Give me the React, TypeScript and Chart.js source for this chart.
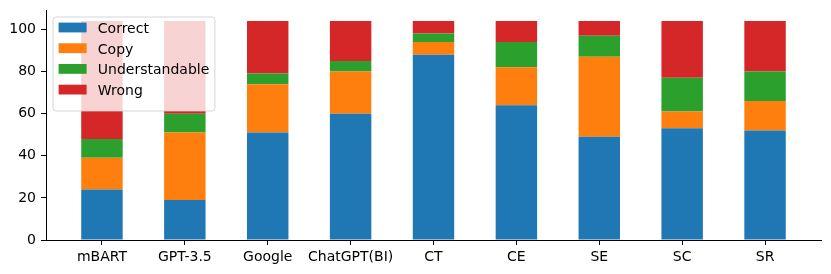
import React, { useEffect, useRef } from "react";
import { Chart, registerables } from "chart.js";

Chart.register(...registerables);

const categories = ["mBART", "GPT-3.5", "Google", "ChatGPT(BI)", "CT", "CE", "SE", "SC", "SR"];
const correct = [24, 19, 51, 60, 88, 64, 49, 53, 52];
const copy = [15, 32, 23, 20, 6, 18, 38, 8, 14];
const understandable = [9, 9, 5, 5, 4, 12, 10, 16, 14];
const wrong = [56, 44, 25, 19, 6, 10, 7, 27, 24];
const yTicks = [0, 20, 40, 60, 80, 100];
const seriesNames = ["Correct", "Copy", "Understandable", "Wrong"];
const seriesColors = ["#1f77b4", "#ff7f0e", "#2ca02c", "#d62728"];

const FONT = '"DejaVu Sans", sans-serif';
const FS = 14;

const legendPlugin = {
  id: "mplLegend",
  afterDatasetsDraw(chart: any) {
    const ctx = chart.ctx as CanvasRenderingContext2D;
    const a = chart.chartArea;
    const x0 = a.left + 7;
    const y0 = a.top + 7;
    ctx.save();
    ctx.font = `${FS}px ${FONT}`;
    const items = chart.data.datasets;
    const textW = Math.max(...items.map((d: any) => ctx.measureText(d.label).width));
    const pad = 0.4 * FS;
    const hl = 2 * FS;
    const htp = 0.8 * FS;
    const rowH = 20.7;
    const w = pad + hl + htp + textW + pad;
    const h = 94;
    const r = 3;
    ctx.beginPath();
    ctx.moveTo(x0 + r, y0);
    ctx.lineTo(x0 + w - r, y0);
    ctx.arcTo(x0 + w, y0, x0 + w, y0 + r, r);
    ctx.lineTo(x0 + w, y0 + h - r);
    ctx.arcTo(x0 + w, y0 + h, x0 + w - r, y0 + h, r);
    ctx.lineTo(x0 + r, y0 + h);
    ctx.arcTo(x0, y0 + h, x0, y0 + h - r, r);
    ctx.lineTo(x0, y0 + r);
    ctx.arcTo(x0, y0, x0 + r, y0, r);
    ctx.closePath();
    ctx.fillStyle = "rgba(255,255,255,0.8)";
    ctx.fill();
    ctx.strokeStyle = "rgba(204,204,204,0.8)";
    ctx.lineWidth = 1;
    ctx.stroke();
    items.forEach((d: any, i: number) => {
      const cy = y0 + 10.5 + i * rowH;
      ctx.fillStyle = d.backgroundColor;
      ctx.fillRect(x0 + pad, cy - 4.9, hl, 9.8);
      ctx.fillStyle = "#000";
      ctx.textBaseline = "alphabetic";
      ctx.textAlign = "left";
      ctx.fillText(d.label, x0 + pad + hl + htp, cy + 5.3);
    });
    ctx.restore();
  },
};

export default function App() {
  const ref = useRef<HTMLCanvasElement | null>(null);

  useEffect(() => {
    if (!ref.current) return;
    const series = [correct, copy, understandable, wrong];
    const chart = new Chart(ref.current, {
      type: "bar",
      data: {
        datasets: series.map((vals, s) => ({
          label: seriesNames[s],
          data: vals.map((v, i) => ({ x: i, y: v })),
          backgroundColor: seriesColors[s],
          borderWidth: 0,
          barPercentage: 0.5,
          categoryPercentage: 1,
        })),
      },
      options: {
        responsive: false,
        devicePixelRatio: 1,
        animation: false,
        layout: { padding: { top: 10, right: 10, left: 0, bottom: 0 } },
        plugins: {
          legend: { display: false },
          tooltip: { enabled: false },
        },
        scales: {
          x: {
            type: "linear",
            stacked: true,
            offset: false,
            min: -0.675,
            max: 8.675,
            afterBuildTicks: (scale: any) => {
              scale.ticks = categories.map((_, i) => ({ value: i }));
            },
            afterFit: (scale: any) => {
              scale.height = 34;
              scale.paddingLeft = 0;
              scale.paddingRight = 0;
            },
            ticks: {
              callback: (v: any) => categories[Math.round(Number(v))] ?? "",
              color: "#000",
              font: { family: FONT, size: FS },
              padding: 4,
              maxRotation: 0,
              autoSkip: false,
            },
            grid: {
              display: true,
              offset: false,
              drawOnChartArea: false,
              drawTicks: true,
              tickLength: 5,
              color: "#000",
              lineWidth: 1,
            },
            border: { display: true, color: "#000", width: 1 },
          },
          y: {
            type: "linear",
            stacked: true,
            min: 0,
            max: 109.2,
            afterBuildTicks: (scale: any) => {
              scale.ticks = yTicks.map((v) => ({ value: v }));
            },
            afterFit: (scale: any) => {
              scale.width = 46;
              scale.paddingTop = 0;
              scale.paddingBottom = 0;
            },
            ticks: {
              color: "#000",
              font: { family: FONT, size: FS },
              padding: 5,
            },
            grid: {
              display: true,
              drawOnChartArea: false,
              drawTicks: true,
              tickLength: 5,
              color: "#000",
              lineWidth: 1,
            },
            border: { display: true, color: "#000", width: 1 },
          },
        },
      },
      plugins: [legendPlugin],
    });
    return () => chart.destroy();
  }, []);

  return (
    <div style={{ position: "fixed", left: 0, top: 0, width: 831, height: 274, background: "#fff" }}>
      <canvas ref={ref} width={831} height={274} style={{ display: "block" }} />
    </div>
  );
}
